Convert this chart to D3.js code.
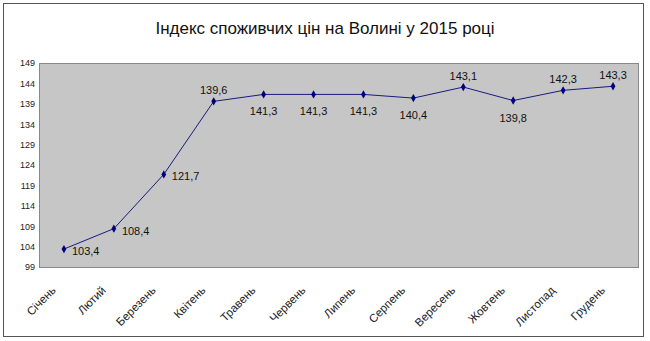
<!DOCTYPE html>
<html>
<head>
<meta charset="utf-8">
<script src="https://cdn.jsdelivr.net/npm/d3@7"></script>
<style>
  body { margin: 0; background: #fff; }
  text { font-family: "Liberation Sans", Arial, sans-serif; }
</style>
</head>
<body>
<svg id="chart" width="650" height="341"></svg>
<script>
// data
const months = ['Січень', 'Лютий', 'Березень', 'Квітень', 'Травень', 'Червень',
                'Липень', 'Серпень', 'Вересень', 'Жовтень', 'Листопад', 'Грудень'];
const values = [103.4, 108.4, 121.7, 139.6, 141.3, 141.3, 141.3, 140.4, 143.1, 139.8, 142.3, 143.3];
// where each label sits relative to its point
const labelPos = ['right', 'right', 'right', 'above', 'below', 'below',
                  'below', 'below', 'above', 'below', 'above', 'above'];
const yTicks = [99, 104, 109, 114, 119, 124, 129, 134, 139, 144, 149];

const svg = d3.select('#chart');
const plot = {left: 39, right: 638, top: 63, bottom: 267};

// outer frame
svg.append('rect')
    .attr('x', 3.5).attr('y', 3.5)
    .attr('width', 640).attr('height', 333)
    .attr('fill', '#fff')
    .attr('stroke', '#555').attr('stroke-width', 1);

svg.append('text')
    .attr('x', 325).attr('y', 34)
    .attr('text-anchor', 'middle')
    .attr('font-size', 17)
    .attr('fill', '#111')
    .text('Індекс споживчих цін на Волині у 2015 році');

const x = d3.scalePoint()
    .domain(months)
    .range([plot.left, plot.right])
    .padding(0.5);

const y = d3.scaleLinear()
    .domain([99, 149])
    .range([plot.bottom, plot.top]);

svg.append('rect')
    .attr('x', plot.left + 0.5).attr('y', plot.top + 0.5)
    .attr('width', plot.right - plot.left).attr('height', plot.bottom - plot.top)
    .attr('fill', '#c6c6c6')
    .attr('stroke', '#888');

// y axis labels
const yAxis = svg.append('g')
    .attr('transform', 'translate(' + (plot.left - 4) + ',0)')
    .call(d3.axisLeft(y).tickValues(yTicks).tickSize(0).tickPadding(0));
yAxis.select('.domain').remove();
yAxis.selectAll('text')
    .attr('font-size', 9)
    .attr('font-family', '"Liberation Sans", Arial, sans-serif')
    .attr('fill', '#222');

// x axis labels, rotated
const xAxis = svg.append('g')
    .attr('transform', 'translate(0,' + plot.bottom + ')')
    .call(d3.axisBottom(x).tickSize(0));
xAxis.select('.domain').remove();
xAxis.selectAll('text')
    .attr('font-size', 11.5)
    .attr('font-family', '"Liberation Sans", Arial, sans-serif')
    .attr('fill', '#222')
    .attr('text-anchor', 'end')
    .attr('dy', 0)
    .attr('transform', 'translate(-10,22) rotate(-45)');

const line = d3.line()
    .x((d, i) => x(months[i]))
    .y(d => y(d));

svg.append('path')
    .datum(values)
    .attr('d', line)
    .attr('fill', 'none')
    .attr('stroke', '#1a1a80')
    .attr('stroke-width', 1);

svg.selectAll('.marker')
    .data(values)
    .join('path')
    .attr('class', 'marker')
    .attr('d', d3.symbol(d3.symbolDiamond, 20))
    .attr('transform', (d, i) => 'translate(' + x(months[i]) + ',' + y(d) + ')')
    .attr('fill', '#000080');

svg.selectAll('.val')
    .data(values)
    .join('text')
    .attr('class', 'val')
    .attr('font-size', 11)
    .attr('fill', '#111')
    .attr('text-anchor', (d, i) => labelPos[i] === 'right' ? 'start' : 'middle')
    .attr('x', (d, i) => x(months[i]) + (labelPos[i] === 'right' ? 8 : 0))
    .attr('y', (d, i) => {
        const py = y(d);
        if (labelPos[i] === 'above') return py - 7;
        if (labelPos[i] === 'below') return py + 21;
        return py + 6;
    })
    .text(d => d3.format('.1f')(d).replace('.', ','));
</script>
</body>
</html>
